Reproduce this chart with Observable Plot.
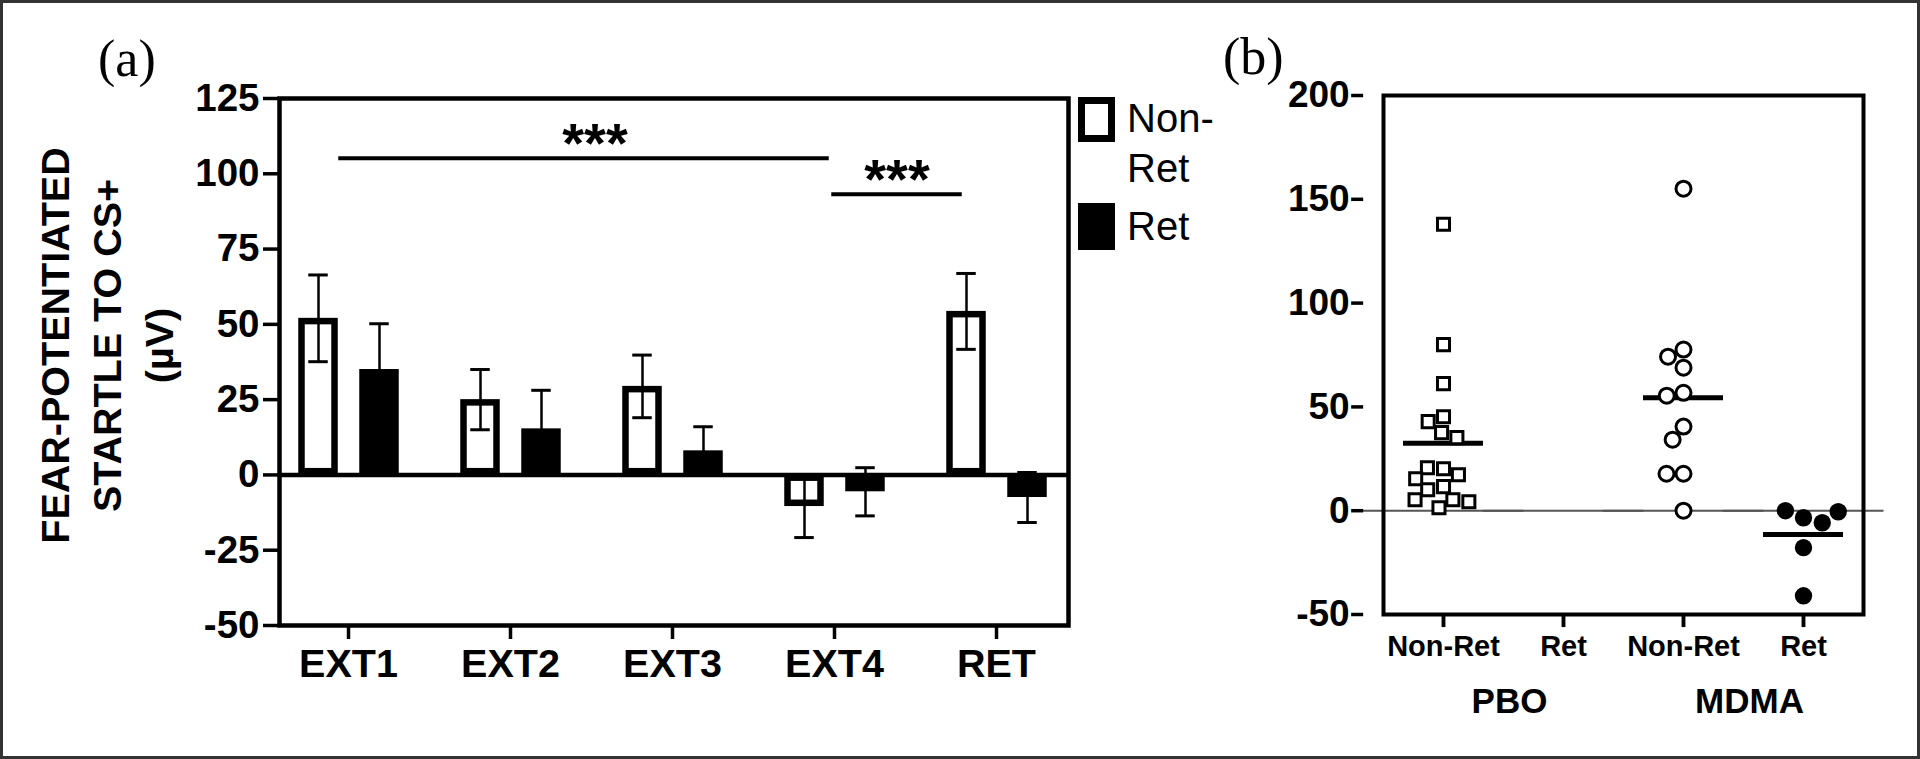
<!DOCTYPE html>
<html>
<head>
<meta charset="utf-8">
<script src="https://cdn.jsdelivr.net/npm/d3@7"></script>
<script src="https://cdn.jsdelivr.net/npm/@observablehq/plot@0.6"></script>
<style>
  html, body { margin: 0; padding: 0; background: #fff; }
  #fig { position: relative; width: 1920px; height: 759px; box-sizing: border-box;
         border: 3px solid #333; overflow: hidden; background: #fff;
         font-family: "Liberation Sans", Arial, sans-serif; }
  .panel { position: absolute; top: -3px; }
  .panel svg { max-width: none; display: block; }
  #overlay { position: absolute; left: -3px; top: -3px; }
</style>
</head>
<body>
<div id="fig">
  <div id="pa" class="panel" style="left:-3px"></div>
  <div id="pb" class="panel" style="left:1217px"></div>
  <svg id="overlay" width="1920" height="759"></svg>
</div>
<script>
// ---------- Panel (a) data ----------
const sessions    = ["EXT1", "EXT2", "EXT3", "EXT4", "RET"];
const nonRetMean  = [52, 25, 29.4, -10.5, 54.3];
const nonRetSem   = [14.4, 10, 10.4, 10.3, 12.6];
const retMean     = [35, 15.3, 8, -5.6, -7.5];
const retSem      = [15.2, 12.8, 8, 8, 8.3];
const sigFrom     = ["EXT1", "EXT4"];
const sigTo       = ["EXT4", "RET"];
const sigY        = [105.2, 93.2];
const sigLabel    = ["***", "***"];
const yTicksA     = [-50, -25, 0, 25, 50, 75, 100, 125];
const yLabelA     = ["FEAR-POTENTIATED", "STARTLE TO CS+", "(µV)"];
const legendLabels = [["Non-", "Ret"], ["Ret"]];

// ---------- Panel (b) data ----------
const groupKeys   = ["PBO Non-Ret", "PBO Ret", "MDMA Non-Ret", "MDMA Ret"];
const drugs       = ["PBO", "MDMA"];
const pboNonRet   = [138, 80, 61.2, 45.3, 42.9, 37.6, 35.2, 20.2, 20.7, 17.3, 15.4, 11.6, 10.1, 5.3, 4.3, 5.3, 1.4];
const pboRet      = [];
const mdmaNonRet  = [155.1, 77.6, 74.2, 68.9, 56.8, 55.4, 40.5, 34.2, 17.8, 17.8, 0];
const mdmaRet     = [-3.4, 0, -5.8, -0.5, -17.8, -41];
const yTicksB     = [-50, 0, 50, 100, 150, 200];

// ---------- Panel (a) ----------
const rowsA = sessions.map((s, i) => ({
  session: s, nr: nonRetMean[i], nrSem: nonRetSem[i], ret: retMean[i], retSem: retSem[i]
}));
const sig = sigFrom.map((f, i) => ({from: f, to: sigTo[i], y: sigY[i], label: sigLabel[i]}));

const baseStyle = {fontFamily: "'Liberation Sans', Arial, sans-serif", fontWeight: "bold",
                   color: "black", background: "transparent", overflow: "visible"};

const plotA = Plot.plot({
  width: 1100, height: 759,
  marginLeft: 279, marginRight: 32, marginTop: 98, marginBottom: 134,
  style: baseStyle,
  x: {type: "band", domain: sessions, range: [265.75, 1078.25], padding: 0},
  y: {domain: [-50, 125]},
  marks: [
    Plot.barY(rowsA, {x: "session", y1: 0, y2: "nr", fill: "white", stroke: "black", strokeWidth: 6.5,
      insetLeft: 34.5, insetRight: 94.5, insetTop: 3.25, insetBottom: 3.25}),
    Plot.barY(rowsA, {x: "session", y1: 0, y2: "ret", fill: "black", insetLeft: 92.25, insetRight: 30.25}),
    Plot.ruleX(rowsA, {x: "session", y1: d => d.nr - d.nrSem, y2: d => d.nr + d.nrSem, dx: -30, strokeWidth: 2.5}),
    Plot.tickY(rowsA, {x: "session", y: d => d.nr + d.nrSem, insetLeft: 41.25, insetRight: 101.25, strokeWidth: 3}),
    Plot.tickY(rowsA, {x: "session", y: d => d.nr - d.nrSem, insetLeft: 41.25, insetRight: 101.25, strokeWidth: 3}),
    Plot.ruleX(rowsA, {x: "session", y1: d => d.ret - d.retSem, y2: d => d.ret + d.retSem, dx: 31, strokeWidth: 2.5}),
    Plot.tickY(rowsA, {x: "session", y: d => d.ret + d.retSem, insetLeft: 102.25, insetRight: 40.25, strokeWidth: 3}),
    Plot.tickY(rowsA, {x: "session", y: d => d.ret - d.retSem, insetLeft: 102.25, insetRight: 40.25, strokeWidth: 3}),
    Plot.ruleY([0], {strokeWidth: 4.5}),
    Plot.ruleY(sig.slice(0, 1), {x1: "from", x2: "to", y: "y", insetLeft: 71.25, insetRight: 86.25, strokeWidth: 4}),
    Plot.ruleY(sig.slice(1), {x1: "from", x2: "to", y: "y", insetLeft: 78.25, insetRight: 115.25, strokeWidth: 4}),
    Plot.text(sig.slice(0, 1), {x: "from", y: "y", text: "label", dx: 246.5, dy: 4, lineAnchor: "bottom", fontSize: 56}),
    Plot.text(sig.slice(1), {x: "from", y: "y", text: "label", dx: 62.5, dy: 4, lineAnchor: "bottom", fontSize: 56}),
    Plot.frame({strokeWidth: 4.5}),
    Plot.axisY({ticks: yTicksA, tickSize: 16, tickPadding: 4, fontSize: 38.5, tickFormat: d => String(d),
      label: null, strokeWidth: 3.5}),
    Plot.axisX({tickSize: 14, tickPadding: 9, fontSize: 39.5, label: null, strokeWidth: 3.5}),
    Plot.text([yLabelA.join("\n")], {frameAnchor: "left", rotate: -90, textAnchor: "middle",
      lineAnchor: "middle", lineHeight: 1.31, fontSize: 39.5, dx: -175, dy: -16.5})
  ]
});
document.getElementById("pa").appendChild(plotA);

// ---------- Overlay: panel tags and legend ----------
const ov = d3.select("#overlay");
ov.append("text").attr("x", 98).attr("y", 76).attr("font-family", "'Liberation Serif', 'Times New Roman', serif")
  .attr("font-size", 52).text("(a)");
ov.append("text").attr("x", 1223).attr("y", 74).attr("font-family", "'Liberation Serif', 'Times New Roman', serif")
  .attr("font-size", 52).text("(b)");
ov.append("rect").attr("x", 1081.5).attr("y", 100.5).attr("width", 30).attr("height", 38)
  .attr("fill", "white").attr("stroke", "black").attr("stroke-width", 7);
ov.append("rect").attr("x", 1078).attr("y", 203).attr("width", 37).attr("height", 47).attr("fill", "black");
const lg = ov.append("g").attr("font-family", "'Liberation Sans', Arial, sans-serif").attr("font-size", 40);
legendLabels[0].forEach((t, i) => lg.append("text").attr("x", 1127).attr("y", 132 + i * 50).text(t));
legendLabels[1].forEach((t, i) => lg.append("text").attr("x", 1127).attr("y", 240 + i * 50).text(t));

// ---------- Panel (b) ----------
const pts = [
  ...pboNonRet.map(v => ({key: "PBO Non-Ret", value: v})),
  ...pboRet.map(v => ({key: "PBO Ret", value: v})),
  ...mdmaNonRet.map(v => ({key: "MDMA Non-Ret", value: v})),
  ...mdmaRet.map(v => ({key: "MDMA Ret", value: v}))
];
const drugRows = drugs.map(d => ({drug: d, first: d + " Non-Ret"}));

const plotB = Plot.plot({
  width: 700, height: 759,
  marginLeft: 142, marginRight: 37, marginTop: 95, marginBottom: 145,
  style: baseStyle,
  fx: {domain: groupKeys, paddingInner: 0, paddingOuter: 0.165, label: null},
  y: {domain: [-50, 200]},
  marks: [
    Plot.ruleY(groupKeys, {fx: d => d, y: () => 0, stroke: "#555", strokeWidth: 2, insetLeft: -20.5, insetRight: -20.5}),
    Plot.frame({facet: "super", strokeWidth: 4}),
    // category tick marks below the frame, one per facet (centred in each facet)
    Plot.ruleX(groupKeys, {fx: d => d, x: null, y1: () => -56.3, y2: () => -50, strokeWidth: 3.5}),
    Plot.axisY({ticks: yTicksB, tickSize: 12, tickPadding: 2, fontSize: 37, tickFormat: d => String(d),
      label: null, strokeWidth: 3.5, facetAnchor: "left", dx: -19.85}),
    Plot.axisFx({anchor: "bottom", tickSize: 13, tickPadding: 8, fontSize: 29, label: null, strokeWidth: 3.5,
      tickFormat: k => k.replace(/^\S+ /, "")}),
    Plot.tickY(pts, Plot.groupZ({y: "mean"}, {fx: "key", y: "value", strokeWidth: 5, insetLeft: 20, insetRight: 20})),
    Plot.dot(pts.filter(d => d.key === "PBO Non-Ret"), Plot.dodgeX({anchor: "middle", padding: 2.5},
      {fx: "key", y: "value", r: 6.8, symbol: "square", fill: "white", stroke: "black", strokeWidth: 3})),
    Plot.dot(pts.filter(d => d.key === "MDMA Non-Ret"), Plot.dodgeX({anchor: "middle", padding: 2},
      {fx: "key", y: "value", r: 7.5, symbol: "circle", fill: "white", stroke: "black", strokeWidth: 3})),
    Plot.dot(pts.filter(d => d.key === "MDMA Ret"), Plot.dodgeX({anchor: "middle", padding: 2},
      {fx: "key", y: "value", r: 8.7, symbol: "circle", fill: "black"})),
    Plot.text(drugRows, {fx: "first", text: "drug", frameAnchor: "bottom-right", textAnchor: "middle",
      lineAnchor: "bottom", dy: 98, dx: 6, fontSize: 35})
  ]
});
document.getElementById("pb").appendChild(plotB);
</script>
</body>
</html>
